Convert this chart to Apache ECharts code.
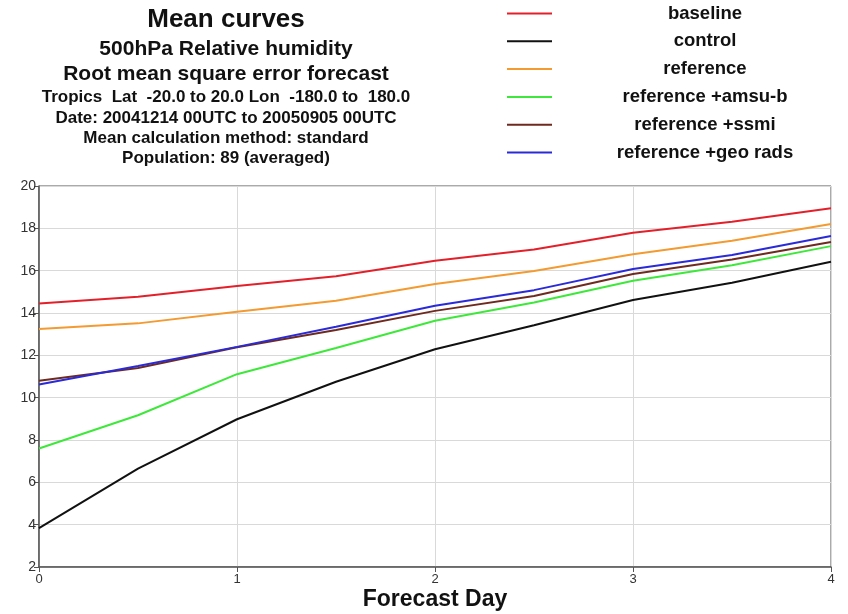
<!DOCTYPE html>
<html><head><meta charset="utf-8">
<script src="https://cdn.jsdelivr.net/npm/echarts@6/dist/echarts.min.js"></script>
<style>html,body{margin:0;padding:0;background:#fff}#c{width:848px;height:614px}</style>
</head><body><div id="c"></div>
<script>
var days = [0, 0.5, 1, 1.5, 2, 2.5, 3, 3.5, 4];
var seriesNames = ['baseline', 'control', 'reference', 'reference +amsu-b', 'reference +ssmi', 'reference +geo rads'];
var baseline = [14.45, 14.77, 15.27, 15.74, 16.47, 17.0, 17.79, 18.31, 18.95];
var control = [3.84, 6.65, 8.98, 10.75, 12.29, 13.42, 14.61, 15.43, 16.42];
var reference = [13.24, 13.51, 14.06, 14.58, 15.37, 15.98, 16.78, 17.41, 18.2];
var amsub = [7.6, 9.17, 11.11, 12.35, 13.63, 14.5, 15.52, 16.26, 17.16];
var ssmi = [10.8, 11.4, 12.38, 13.2, 14.1, 14.8, 15.84, 16.53, 17.35];
var georads = [10.62, 11.5, 12.4, 13.35, 14.34, 15.08, 16.08, 16.74, 17.64];
var yTicks = [2, 4, 6, 8, 10, 12, 14, 16, 18, 20];
var xTicks = [0, 1, 2, 3, 4];
var titleLines = [
  'Mean curves',
  '500hPa Relative humidity',
  'Root mean square error forecast',
  'Tropics  Lat  -20.0 to 20.0 Lon  -180.0 to  180.0',
  'Date: 20041214 00UTC to 20050905 00UTC',
  'Mean calculation method: standard',
  'Population: 89 (averaged)'
];
var xAxisName = 'Forecast Day';

var colors = ['#e3202a', '#111111', '#f39a30', '#3ee83a', '#6e2a1e', '#2a2ad8'];
var allData = [baseline, control, reference, amsub, ssmi, georads];

var font = 'Liberation Sans, Arial, Helvetica, sans-serif';
var titleTops = [7, 38.5, 64, 88.5, 110, 130.3, 150.3];
var titleSizes = [26, 21, 21, 17, 17, 17, 17];
var titles = titleLines.map(function (t, i) {
  return {
    text: t, left: 226, top: titleTops[i], textAlign: 'center', padding: 0,
    textStyle: { fontFamily: font, fontSize: titleSizes[i], fontWeight: 'bold', color: '#111' }
  };
});

var series = seriesNames.map(function (n, i) {
  return {
    name: n, type: 'line', symbol: 'none', smooth: false,
    data: days.map(function (d, j) { return [d, allData[i][j]]; }),
    lineStyle: { color: colors[i], width: 2 },
    itemStyle: { color: colors[i] },
    z: 2 + i
  };
});

var chart = echarts.init(document.getElementById('c'), null, { renderer: 'canvas' });
chart.setOption({
  animation: false,
  backgroundColor: '#fff',
  title: titles,
  legend: {
    orient: 'vertical', left: 507, top: 4, itemGap: 8.8, padding: 0,
    icon: 'rect', itemWidth: 45, itemHeight: 2,
    data: seriesNames,
    formatter: function (n) { return '{a|' + n + '}'; },
    textStyle: {
      fontFamily: font, fontSize: 18.5, fontWeight: 'bold', color: '#111',
      rich: { a: { width: 296, align: 'center', fontFamily: font, fontSize: 18.5, fontWeight: 'bold', height: 20, color: '#111' } }
    }
  },
  grid: { left: 39, right: 17, top: 186, bottom: 47, show: true, borderColor: '#555', borderWidth: 1, outerBoundsMode: 'none', containLabel: false },
  xAxis: {
    type: 'value', min: 0, max: 4, interval: 1,
    name: xAxisName, nameLocation: 'middle', nameGap: 21, nameMoveOverlap: false,
    nameTextStyle: { fontFamily: font, fontSize: 23, fontWeight: 'bold', color: '#111' },
    axisLine: { lineStyle: { color: '#555', width: 1.5 } },
    axisTick: { show: true, length: 5, lineStyle: { color: '#555' } },
    axisLabel: { fontFamily: font, fontSize: 13, color: '#333', margin: 6,
      formatter: function (v) { return xTicks.indexOf(v) >= 0 ? String(v) : ''; } },
    splitLine: { show: true, lineStyle: { color: '#d9d9d9', width: 1 } }
  },
  yAxis: {
    type: 'value', min: 2, max: 20, interval: 2,
    axisLine: { show: true, lineStyle: { color: '#555', width: 1.5 } },
    axisTick: { show: true, length: 5, lineStyle: { color: '#555' } },
    axisLabel: { fontFamily: font, fontSize: 14, color: '#333', margin: 3,
      formatter: function (v) { return yTicks.indexOf(v) >= 0 ? String(v) : ''; } },
    splitLine: { show: true, lineStyle: { color: '#d9d9d9', width: 1 } }
  },
  series: series
});
</script></body></html>
